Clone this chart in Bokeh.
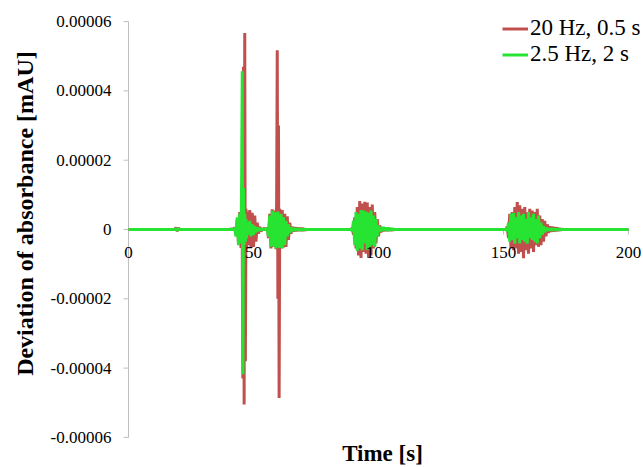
import math
from bokeh.plotting import figure
from bokeh.models import Label, LabelSet, ColumnDataSource, Range1d
from bokeh.embed import file_html
from bokeh.resources import INLINE

# ---------------- data (values in 1e-6 mAU) ----------------
series_names = ["20 Hz, 0.5 s", "2.5 Hz, 2 s"]

t_flat1 = [0, 10, 18.5, 19, 19.5, 20, 20.5, 30, 40, 42]
red_flat1 = [0, 0, 0, 0.6, -0.5, 0.4, 0, 0, 0, 0.2]
green_flat1 = [0, 0, 0, 0.2, -0.2, 0.1, 0, 0, 0, 0]

t_burst1 = [42.5, 43, 43.5, 44, 44.5, 45, 45.25, 45.5, 45.75, 46, 46.25, 46.5, 46.75, 47, 47.25, 47.5,
            48, 48.5, 49, 49.5, 50, 50.5, 51, 51.5, 52, 52.5, 53, 54, 55]
red_burst1 = [0.5, -1.5, 3.0, -4.0, 5.0, -5.3, 5.5, -5.0, -43, 47, -50.5, 56.7, -38, 6, -5.5, 5.2,
              -4.5, 5.6, -5.3, 4.8, -5.0, 4.0, -3.5, 2.0, -1.2, 0.8, -0.5, 0.3, 0]
green_burst1 = [0.5, -2.0, 3.5, -4.5, 4.6, -4.0, 15, 45.7, -41.8, 12, -4.5, 4.5, -3.5, 3.0, -2.5, 2.0,
                -1.5, 2.5, -2.0, 1.5, -1.5, 1.0, -0.8, 0.6, -0.4, 0.3, -0.2, 0.1, 0]

t_burst2 = [55.5, 56, 56.5, 57, 57.5, 58, 58.5, 59, 59.25, 59.5, 59.75, 60, 60.25, 60.5,
            61, 61.5, 62, 62.5, 63, 63.5, 64, 64.5, 65, 65.5, 66, 66.5, 67, 67.5, 68, 68.5,
            69, 69.5, 70, 70.5, 71, 72, 80]
red_burst2 = [0.5, -2.5, 4.5, -5.5, 5.8, -5.0, 5.5, -5.7, 8, 51.7, -20, 30, -48.6, 6,
              -5.5, 5.6, -5.2, 4.5, -5.0, 3.8, -3.0, 2.0, -1.2, 0.8, -0.6, 0.7, -0.5, 0.6, -0.4, 0.5,
              -0.4, 0.5, -0.3, 0.2, -0.1, 0, 0]
green_burst2 = [0.3, -2.0, 4.0, -5.0, 5.5, -4.8, 5.0, -5.5, 4.5, -3.5, 5.2, -5.0, 4.0, -5.3,
                4.5, -5.5, 3.5, -4.5, 2.5, -2.0, 1.5, -1.0, 0.6, -0.5, 0.4, -0.3, 0.3, -0.2, 0.2, -0.2,
                0.1, -0.1, 0.1, 0, 0, 0, 0]

t_burst3 = [89, 89.5, 90, 90.5, 91, 91.5, 92, 92.5, 93, 93.5, 94, 94.5, 95, 95.5, 96, 96.5,
            97, 97.5, 98, 98.5, 99, 99.5, 100,
            100.5, 101, 101.5, 102, 102.5, 103, 103.5, 104, 104.5, 105, 105.5, 106, 106.5, 108, 130, 150]
red_burst3 = [0, 0.5, -1.5, 3.5, -5.5, 6.5, -7.5, 8.2, -8.2, 7.5, -6.5, 8.0, -7.0, 7.8, -8.0, 6.5,
              -7.5, 7.2, -5.5, 5.0, -4.0, 3.0, -2.0,
              1.2, -0.8, 0.6, -0.5, 0.6, -0.4, 0.5, -0.4, 0.3, -0.3, 0.2, -0.1, 0.0, 0, 0, 0]
green_burst3 = [0, -0.5, 2.5, -4.5, 5.0, -6.2, 4.5, -5.5, 5.6, -6.0, 5.5, -4.0, 5.2, -5.8, 4.8, -5.0,
                5.5, -4.5, 4.0, -5.0, 3.0, -2.0, 1.2,
                -0.6, 0.5, -0.4, 0.7, -0.3, 0.6, -0.4, 0.5, -0.2, 0.3, -0.1, 0.1, 0.0, 0, 0, 0]

t_burst4 = [151, 151.5, 152, 152.5, 153, 153.5, 154, 154.5, 155, 155.5, 156, 156.5, 157, 157.5,
            158, 158.5, 159, 159.5, 160, 160.5, 161, 161.5, 162, 162.5, 163, 163.5, 164, 164.5,
            165, 165.5, 166, 166.5, 167, 167.5, 168,
            168.5, 169, 169.5, 170, 170.5, 171, 171.5, 172, 172.5, 173, 173.5, 174, 176, 200]
red_burst4 = [0, 0.8, -2.5, 4.5, -5.5, 5.0, -6.0, 6.5, -5.5, 7.9, -7.0, 7.0, -6.5, 6.0,
              -8.3, 6.5, -6.0, 5.0, -7.0, 6.0, -5.5, 5.5, -6.5, 5.0, -4.5, 6.0, -5.0, 4.0,
              -4.5, 3.0, -3.5, 2.5, -2.0, 1.5, -1.0,
              0.9, -0.7, 0.8, -0.6, 0.7, -0.5, 0.6, -0.4, 0.3, -0.2, 0.1, 0, 0, 0]
green_burst4 = [0, -0.5, 2.0, -3.5, 4.5, -3.0, 4.8, -4.1, 3.5, -2.5, 5.0, -4.0, 4.0, -3.0,
                4.5, -3.5, 3.0, -4.1, 5.0, -2.5, 3.5, -3.0, 4.5, -3.5, 3.0, -4.0, 4.0, -2.5,
                2.0, -1.5, 1.0, -0.8, 0.6, -0.4, 0.3,
                -0.3, 0.3, -0.2, 0.2, -0.2, 0.1, -0.1, 0.1, 0, 0, 0, 0, 0, 0]

x_ticks = [0, 50, 100, 150, 200]
x_tick_labels = ["0", "50", "100", "150", "200"]
y_ticks = [-6e-5, -4e-5, -2e-5, 0, 2e-5, 4e-5, 6e-5]
y_tick_labels = ["-0.00006", "-0.00004", "-0.00002", "0", "0.00002", "0.00004", "0.00006"]

x_title = "Time [s]"
y_title = "Deviation of absorbance [mAU]"

# ---------------- assemble ----------------
MICRO = 1e-6
time_s = t_flat1 + t_burst1 + t_burst2 + t_burst3 + t_burst4
red_uv = red_flat1 + red_burst1 + red_burst2 + red_burst3 + red_burst4
green_uv = green_flat1 + green_burst1 + green_burst2 + green_burst3 + green_burst4
assert len(time_s) == len(red_uv) == len(green_uv), (len(time_s), len(red_uv), len(green_uv))
red_v = [v * MICRO for v in red_uv]
green_v = [v * MICRO for v in green_uv]

RED = "#C0504D"
GREEN = "#27E332"
GRAY = "#BFBFBF"
SERIF = "Liberation Serif"
SANS = "Open Sans"

# the view spans the whole picture; axes are drawn at x=0 and y=0 from the tick lists
x_view = (-51.2, 206)
y_view = (-6.869e-5, 6.609e-5)

p = figure(width=643, height=467, output_backend="svg", toolbar_location=None,
           x_range=Range1d(*x_view), y_range=Range1d(*y_view),
           x_axis_location=None, y_axis_location=None,
           min_border_left=0, min_border_right=0, min_border_top=0, min_border_bottom=0)
p.grid.visible = False
p.outline_line_color = None
p.background_fill_color = "white"
p.border_fill_color = "white"

# vertical axis
p.segment(x0=[x_ticks[0]], y0=[y_ticks[0]], x1=[x_ticks[0]], y1=[y_ticks[-1]],
          line_color=GRAY, line_width=1)
p.ray(x=[x_ticks[0]] * len(y_ticks), y=y_ticks, length=5, length_units="screen",
      angle=math.pi, line_color=GRAY, line_width=1)
ysrc = ColumnDataSource(dict(x=[x_ticks[0]] * len(y_ticks), y=y_ticks, text=y_tick_labels))
p.add_layout(LabelSet(x="x", y="y", text="text", source=ysrc, text_align="right",
                      text_baseline="middle", x_offset=-17, text_font=SANS,
                      text_font_size="17px", text_color="black"))

# horizontal axis through zero
p.segment(x0=[x_ticks[0]], y0=[0], x1=[x_ticks[-1]], y1=[0], line_color=GRAY, line_width=1)
p.ray(x=x_ticks, y=[0] * len(x_ticks), length=5, length_units="screen",
      angle=-math.pi / 2, line_color=GRAY, line_width=1)

r_red = p.line(time_s, red_v, line_color=RED, line_width=3, legend_label=series_names[0])
r_green = p.line(time_s, green_v, line_color=GREEN, line_width=3, legend_label=series_names[1])

xsrc = ColumnDataSource(dict(x=x_ticks, y=[0] * len(x_ticks), text=x_tick_labels))
p.add_layout(LabelSet(x="x", y="y", text="text", source=xsrc, text_align="center",
                      text_baseline="middle", y_offset=-23, text_font=SANS,
                      text_font_size="17px", text_color="black"))

p.add_layout(Label(x=101.6, y=-64.6e-6, text=x_title, text_align="center", text_baseline="middle",
                   text_font=SERIF, text_font_style="bold", text_font_size="23px", text_color="black"))
p.add_layout(Label(x=-41.6, y=4.6e-6, text=y_title, angle=math.pi / 2, text_align="center",
                   text_baseline="middle", text_font=SERIF, text_font_style="bold",
                   text_font_size="24px", text_color="black"))

lg = p.legend[0]
lg.location = (502, 400)
lg.background_fill_alpha = 0
lg.border_line_color = None
lg.label_text_font = SERIF
lg.label_text_font_size = "23px"
lg.label_text_color = "black"
lg.glyph_width = 26
lg.glyph_height = 23
lg.label_height = 23
lg.label_standoff = 2
lg.spacing = 0
lg.padding = 0
lg.margin = 0

open("out.html", "w").write(file_html(p, INLINE))
